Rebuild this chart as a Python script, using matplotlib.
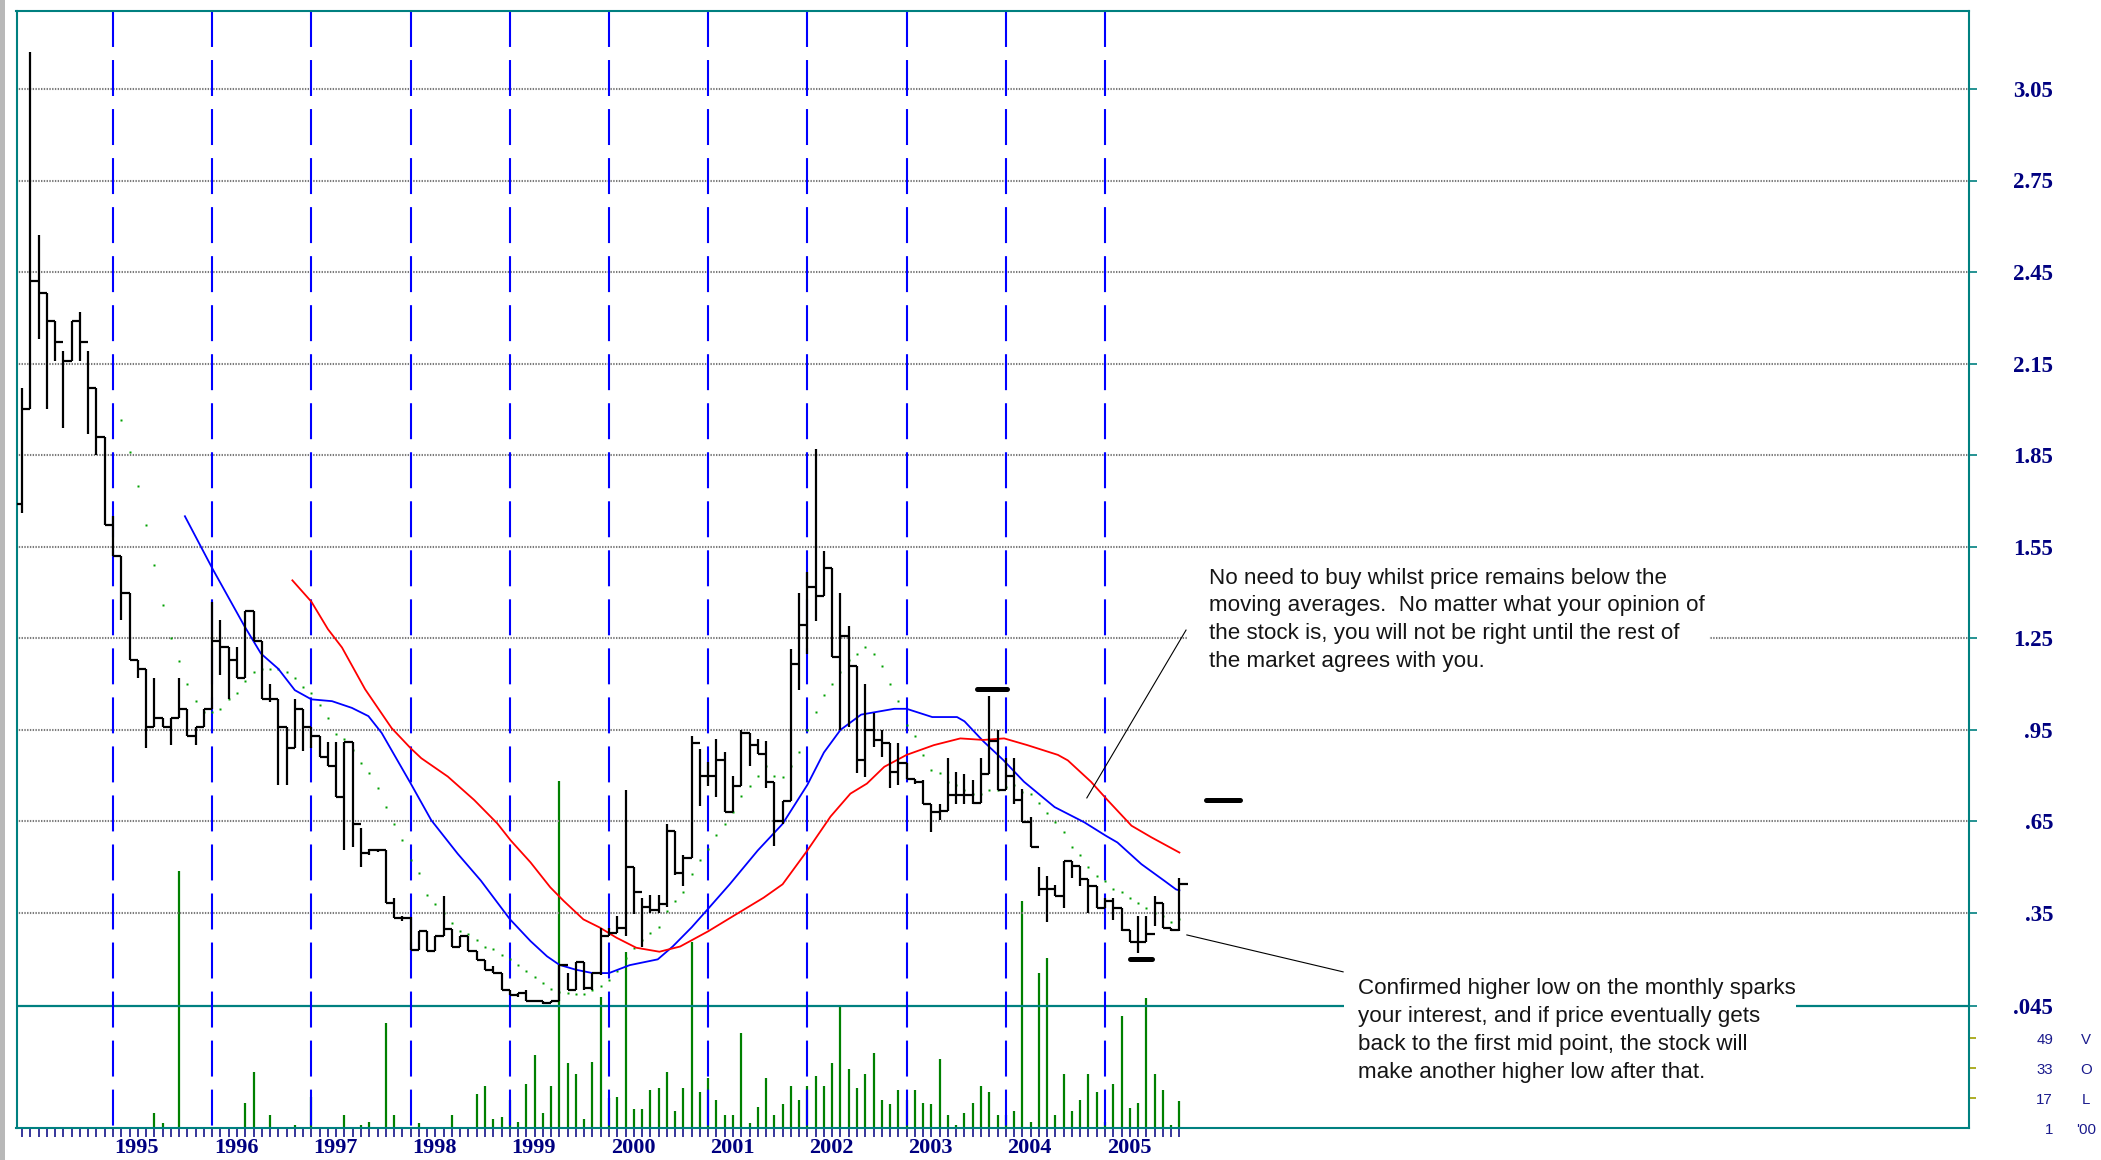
import matplotlib
matplotlib.use("Agg")
import matplotlib.pyplot as plt
import matplotlib.transforms as mtransforms
from matplotlib.patches import Rectangle

plt.rcParams['lines.scale_dashes'] = False

# monthly bars Feb 1994 .. Oct 2005, month 0 = Jan 1995
first_month = -11
high = [2.07, 3.17, 2.57, 2.38, 2.29, 2.19, 2.29, 2.32, 2.19, 2.07, 1.91,
        1.65, 1.52, 1.40, 1.18, 1.15, 1.12, 0.99, 0.99, 1.12, 1.02, 0.96, 1.02,
        1.37, 1.31, 1.22, 1.22, 1.34, 1.34, 1.24, 1.10, 1.05, 0.96, 1.05, 1.02,
        0.96, 0.93, 0.91, 0.91, 0.91, 0.91, 0.63, 0.56, 0.56, 0.555, 0.40, 0.34,
        0.337, 0.29, 0.29, 0.274, 0.406, 0.296, 0.274, 0.274, 0.225, 0.197, 0.175, 0.153,
        0.098, 0.087, 0.098, 0.062, 0.062, 0.062, 0.18, 0.153, 0.19, 0.19, 0.153, 0.302,
        0.302, 0.34, 0.753, 0.502, 0.40, 0.41, 0.41, 0.64, 0.62, 0.54, 0.93, 0.888,
        0.845, 0.92, 0.876, 0.80, 0.95, 0.94, 0.92, 0.915, 0.78, 0.716, 1.215, 1.40,
        1.468, 1.87, 1.536, 1.48, 1.40, 1.29, 1.16, 1.10, 1.005, 0.95, 0.906, 0.906,
        0.84, 0.79, 0.785, 0.708, 0.708, 0.857, 0.813, 0.807, 0.785, 0.857, 1.06, 0.95,
        0.857, 0.857, 0.757, 0.664, 0.499, 0.471, 0.443, 0.52, 0.52, 0.504, 0.46, 0.438,
        0.40, 0.40, 0.366, 0.295, 0.339, 0.339, 0.405, 0.383, 0.30, 0.466]
low = [1.66, 2.00, 2.23, 2.00, 2.16, 1.94, 2.16, 2.16, 1.92, 1.85, 1.62,
       1.52, 1.31, 1.18, 1.12, 0.89, 0.96, 0.96, 0.90, 0.99, 0.93, 0.90, 0.96,
       1.02, 1.13, 1.05, 1.12, 1.12, 1.24, 1.05, 1.04, 0.77, 0.77, 0.89, 0.88,
       0.89, 0.86, 0.83, 0.73, 0.555, 0.565, 0.50, 0.54, 0.55, 0.384, 0.335, 0.324,
       0.23, 0.23, 0.227, 0.227, 0.274, 0.24, 0.24, 0.225, 0.197, 0.164, 0.153, 0.098,
       0.082, 0.076, 0.06, 0.058, 0.051, 0.054, 0.06, 0.098, 0.098, 0.098, 0.098, 0.148,
       0.274, 0.285, 0.274, 0.346, 0.24, 0.35, 0.35, 0.37, 0.475, 0.44, 0.53, 0.70,
       0.765, 0.73, 0.68, 0.68, 0.765, 0.83, 0.87, 0.76, 0.57, 0.64, 0.716, 1.08,
       1.197, 1.307, 1.388, 1.19, 0.95, 0.96, 0.81, 0.796, 0.895, 0.862, 0.758, 0.769,
       0.79, 0.774, 0.708, 0.614, 0.653, 0.684, 0.708, 0.708, 0.708, 0.71, 0.807, 0.752,
       0.752, 0.708, 0.647, 0.565, 0.405, 0.322, 0.405, 0.366, 0.466, 0.438, 0.35, 0.366,
       0.366, 0.328, 0.29, 0.256, 0.218, 0.256, 0.306, 0.30, 0.29, 0.29]
close = [2.00, 2.42, 2.38, 2.29, 2.22, 2.16, 2.29, 2.22, 2.07, 1.91, 1.62,
         1.52, 1.40, 1.18, 1.15, 0.96, 0.99, 0.96, 0.99, 1.02, 0.93, 0.96, 1.02,
         1.24, 1.22, 1.18, 1.12, 1.34, 1.24, 1.05, 1.05, 0.96, 0.89, 1.02, 0.96,
         0.93, 0.86, 0.83, 0.73, 0.91, 0.64, 0.545, 0.555, 0.555, 0.384, 0.335, 0.335,
         0.23, 0.29, 0.227, 0.274, 0.296, 0.24, 0.274, 0.225, 0.197, 0.164, 0.153, 0.098,
         0.082, 0.087, 0.06, 0.06, 0.054, 0.06, 0.18, 0.098, 0.19, 0.104, 0.153, 0.274,
         0.285, 0.302, 0.502, 0.42, 0.37, 0.36, 0.38, 0.62, 0.48, 0.53, 0.907, 0.80,
         0.80, 0.85, 0.68, 0.765, 0.94, 0.90, 0.87, 0.78, 0.65, 0.716, 1.166, 1.295,
         1.418, 1.388, 1.48, 1.19, 1.258, 1.16, 0.85, 0.95, 0.917, 0.906, 0.813, 0.84,
         0.79, 0.78, 0.708, 0.68, 0.684, 0.735, 0.735, 0.735, 0.71, 0.807, 0.912, 0.752,
         0.80, 0.72, 0.647, 0.565, 0.427, 0.427, 0.405, 0.52, 0.504, 0.46, 0.438, 0.366,
         0.388, 0.366, 0.295, 0.256, 0.256, 0.28, 0.383, 0.30, 0.295, 0.444]
first_open = 1.69

volume = [0, 0, 0, 0, 0, 0, 0, 0, 0, 0, 0,
          0, 0, 0, 0, 0, 8.7, 3.3, 0, 138, 0, 0, 0,
          0, 0, 0, 0, 14.3, 30.9, 0, 7.8, 0, 0, 2.1, 0,
          17.5, 0, 0, 0, 7.8, 0, 2.1, 4.2, 0, 57, 7.8, 0,
          0, 3.3, 0, 0, 0, 7.8, 0, 0, 18.8, 23.2, 5.6, 6.5,
          15.8, 4.2, 24.1, 39.8, 8.7, 23.2, 186, 35.3, 29.6, 5.6, 36.2, 70.8,
          16.7, 17.5, 94.9, 11, 11, 20.8, 22, 30.9, 9.9, 22, 100, 19.7,
          27.3, 15.8, 7.8, 7.8, 51.7, 3.3, 12.2, 27.3, 7.8, 13.5, 23.2, 15.8,
          23.2, 28.6, 23.2, 35.3, 66.4, 32, 22, 29.6, 40.7, 15.8, 13.5, 21.1,
          15.8, 21.1, 14.3, 13.5, 37.5, 7.8, 2.1, 9, 14.3, 23.2, 19.7, 7.8,
          7.7, 9.8, 122, 4.1, 83.6, 91.3, 7.7, 29.4, 9.8, 15.7, 29.4, 19.8,
          4.1, 24.1, 60.5, 11.3, 14.2, 70, 29.4, 21, 2.3, 15.1]

# short average, drawn as dots, one per month from month 1
ma_short_start = 1
ma_short = [1.965, 1.86, 1.75, 1.62, 1.49, 1.36, 1.25, 1.175, 1.10, 1.045, 1.01,
            1.01, 1.02, 1.05, 1.07, 1.11, 1.14, 1.15, 1.15, 1.15, 1.14, 1.12, 1.09,
            1.07, 1.03, 0.99, 0.937, 0.92, 0.883, 0.84, 0.808, 0.758, 0.698, 0.643, 0.59,
            0.522, 0.48, 0.41, 0.379, 0.35, 0.318, 0.29, 0.28, 0.263, 0.24, 0.233, 0.213,
            0.20, 0.18, 0.16, 0.14, 0.12, 0.10, 0.09, 0.087, 0.084, 0.084, 0.098, 0.11,
            0.13, 0.16, 0.203, 0.235, 0.26, 0.284, 0.303, 0.356, 0.389, 0.42, 0.479, 0.524,
            0.559, 0.605, 0.642, 0.68, 0.734, 0.765, 0.80, 0.83, 0.80, 0.796, 0.83, 0.876,
            0.95, 1.01, 1.064, 1.10, 1.14, 1.18, 1.197, 1.22, 1.20, 1.16, 1.10, 1.044,
            0.967, 0.93, 0.868, 0.82, 0.81, 0.78, 0.77, 0.752, 0.74, 0.74, 0.752, 0.752,
            0.763, 0.769, 0.747, 0.74, 0.71, 0.677, 0.647, 0.614, 0.567, 0.539, 0.50, 0.47,
            0.455, 0.427, 0.42, 0.40, 0.383, 0.365, 0.35, 0.34, 0.322, 0.33]

# medium average (blue), read at points
ma_mid_m = [8.7, 12, 15.9, 17.9, 20, 22, 24, 26.5, 28.9, 30.9, 32.5, 36, 38.5, 41.7,
            44.5, 48, 50.5, 52.5, 54, 56, 58, 60, 62.5, 65.9, 67.7, 70, 72, 74.6, 78,
            81, 84, 86, 88, 90.5, 94.5, 96, 99.1, 102.1, 103, 105.3, 107.7, 110.2,
            113.9, 117.5, 120.1, 121.5, 124.4, 127.2, 128.6, 129]
ma_mid_v = [1.65, 1.48, 1.29, 1.20, 1.15, 1.08, 1.05, 1.044, 1.022, 0.995, 0.94, 0.775,
            0.654, 0.544, 0.456, 0.33, 0.258, 0.208, 0.18, 0.164, 0.153, 0.153, 0.179,
            0.198, 0.24, 0.303, 0.364, 0.444, 0.555, 0.642, 0.77, 0.876, 0.95, 1.0, 1.019,
            1.019, 0.992, 0.992, 0.978, 0.912, 0.851, 0.78, 0.697, 0.647, 0.603, 0.581,
            0.51, 0.455, 0.427, 0.424]

# long average (red), read at points
ma_long_m = [21.7, 24, 26, 27.7, 30.5, 33.7, 36, 37.3, 40.5, 43.7, 46.5, 48.1, 50.5,
             52.9, 54.5, 56.9, 58.9, 60.9, 63.3, 66.1, 68.6, 72, 75.4, 78.7, 81, 84,
             86.8, 89.2, 91.2, 93.3, 96, 99.3, 102.5, 105.3, 107.8, 110.6, 114.3,
             115.5, 118.3, 120.3, 123.2, 125.6, 129]
ma_long_v = [1.44, 1.37, 1.28, 1.22, 1.083, 0.956, 0.89, 0.857, 0.797, 0.72, 0.643,
             0.588, 0.516, 0.434, 0.39, 0.329, 0.302, 0.269, 0.236, 0.223, 0.24, 0.29,
             0.346, 0.40, 0.444, 0.555, 0.666, 0.741, 0.774, 0.829, 0.868, 0.90, 0.922,
             0.917, 0.922, 0.90, 0.868, 0.85, 0.78, 0.72, 0.636, 0.598, 0.548]

years = list(range(1995, 2006))
price_ticks = [3.05, 2.75, 2.45, 2.15, 1.85, 1.55, 1.25, 0.95, 0.65, 0.35, 0.045]
price_labels = ['3.05', '2.75', '2.45', '2.15', '1.85', '1.55', '1.25', '.95', '.65', '.35', '.045']
vol_ticks = [49, 33, 17, 1]
vol_names = ['V', 'O', 'L', "'00"]

# marked levels: (from month, to month, price)
marks = [(104.5, 108.2, 1.084), (123.0, 125.7, 0.198), (132.2, 136.3, 0.720)]

note1 = ("No need to buy whilst price remains below the\n"
         "moving averages.  No matter what your opinion of\n"
         "the stock is, you will not be right until the rest of\n"
         "the market agrees with you.")
note1_xy = (132.6, 1.482)
note1_line = ([117.8, 129.8], [0.727, 1.277])
note1_box = (130.0, 193.0, 1.048, 1.507)

note2 = ("Confirmed higher low on the monthly sparks\n"
         "your interest, and if price eventually gets\n"
         "back to the first mid point, the stock will\n"
         "make another higher low after that.")
note2_xy = (150.6, 0.136)
note2_line = ([129.9, 148.8], [0.278, 0.157])
note2_box = (148.9, 203.6, -0.23, 0.163)

navy = '#000080'
teal = '#008080'

W, H = 2101, 1160
fig = plt.figure(figsize=(W / 100, H / 100), dpi=100)
ax = fig.add_axes([16.5 / W, 1 - 1127.5 / H, 1952 / W, 1116.8 / H])
vax = ax.twinx()
ax.yaxis.tick_right()
ax.set_zorder(2)
ax.patch.set_visible(False)
vax.set_zorder(1)

xmin, xmax = -11.67, 224.45
ymin, ymax = -0.353, 3.3066
ax.set_xlim(xmin, xmax)
ax.set_ylim(ymin, ymax)
vax.set_ylim(1, 597.3)

months = list(range(first_month, first_month + len(close)))

# grid
ax.hlines(price_ticks[:-1], xmin, xmax, colors='#7a7a7a', lw=1.5,
          linestyles=(0, (1, 1)), zorder=1)
ax.axhline(price_ticks[-1], color=teal, lw=1.6, zorder=1)
for y in years:
    m = (y - 1995) * 12
    ax.plot([m, m], [ymax, ymin], color='#0000ff', lw=1.5,
            dashes=(25.9, 9.4), zorder=2)

# volume
vm = [m for m, v in zip(months, volume) if v > 0]
vv = [v for v in volume if v > 0]
vax.vlines(vm, 1, vv, colors='#008000', lw=1.6)

# moving averages
ax.plot(range(ma_short_start, ma_short_start + len(ma_short)), ma_short, ls='none',
        marker='s', ms=2.0, mec='none', mfc='#00a000', zorder=3)
ax.plot(ma_mid_m, ma_mid_v, color='#0000ff', lw=1.3, zorder=3)
ax.plot(ma_long_m, ma_long_v, color='#ff0000', lw=1.3, zorder=3)

# price bars
ax.vlines(months, low, high, colors='black', lw=1.6, zorder=4)
ax.hlines(close, months, [m + 1 for m in months], colors='black', lw=1.6, zorder=4)
ax.hlines(first_open, first_month - 0.7, first_month, colors='black', lw=1.6, zorder=4)

for a, b, p in marks:
    ax.plot([a, b], [p, p], color='black', lw=3.6, solid_capstyle='round', zorder=5)

# notes
for box, line, xy, txt in [(note1_box, note1_line, note1_xy, note1),
                           (note2_box, note2_line, note2_xy, note2)]:
    ax.add_patch(Rectangle((box[0], box[2]), box[1] - box[0], box[3] - box[2],
                           facecolor='white', edgecolor='none', zorder=6))
    ax.plot(line[0], line[1], color='black', lw=0.8, zorder=6)
    ax.text(xy[0], xy[1], txt, ha='left', va='top', fontsize=16.1,
            family='Liberation Sans', color='#151515', linespacing=1.43, zorder=7)

# axes styling
for s in ax.spines.values():
    s.set_color(teal)
    s.set_linewidth(1.5)
for s in vax.spines.values():
    s.set_visible(False)
ax.set_xticks(months)
ax.set_xticklabels([])
ax.tick_params(axis='x', direction='out', length=6.5, width=1.1, color=navy, top=False)
ax.set_yticks(price_ticks)
ax.tick_params(axis='y', right=True, left=False, labelright=False, labelleft=False,
               direction='out', length=5.8, width=1.2, color=teal)
vax.set_yticks(vol_ticks[:-1])
vax.tick_params(axis='y', right=True, labelright=False, direction='out',
                length=5, width=1.2, color='#a0a000')

ptrans = mtransforms.blended_transform_factory(ax.transAxes, ax.transData)
for p, lab in zip(price_ticks, price_labels):
    ax.text(1.0433, p - 0.008, lab, transform=ptrans, ha='right', va='center', fontsize=16.5,
            fontweight='bold', family='Liberation Serif', color=navy)

vtrans = mtransforms.blended_transform_factory(vax.transAxes, vax.transData)
for v, name in zip(vol_ticks, vol_names):
    vax.text(1.0433, v - 1.5, str(v), transform=vtrans, ha='right', va='center',
             fontsize=10.8, family='Liberation Sans', color='#1a1a8c')
    vax.text(1.0602, v - 1.5, name, transform=vtrans, ha='center', va='center',
             fontsize=10.8, family='Liberation Sans', color='#1a1a8c')

ytrans = mtransforms.blended_transform_factory(ax.transData, ax.transAxes)
for y in years:
    ax.text((y - 1995) * 12 + 0.2, -0.0098, str(y), transform=ytrans, ha='left', va='top',
            fontsize=16, fontweight='bold', family='Liberation Serif', color=navy)

fig.add_artist(Rectangle((0, 0), 5 / W, 1, transform=fig.transFigure,
                         facecolor='#b8b8b8', edgecolor='none'))

fig.savefig('out.png', dpi=100)
